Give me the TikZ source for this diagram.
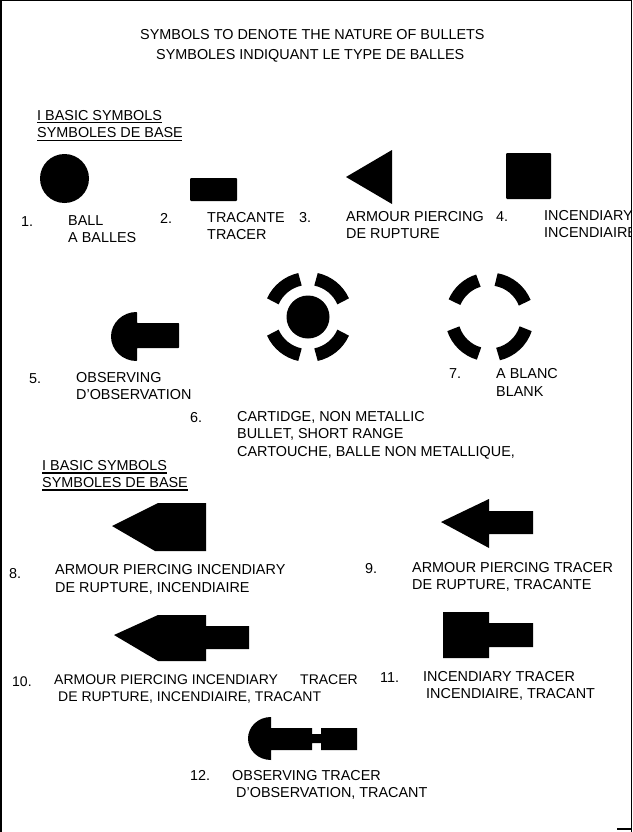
\documentclass[tikz,border=0pt]{standalone}
\usepackage{fontspec}
\setmainfont{Liberation Sans}
\tikzset{
  lbl/.style={anchor=base west,inner sep=0pt,font=\fontsize{14.4}{14.4}\selectfont,text=black},
  lblsmall/.style={lbl,font=\fontsize{14}{14}\selectfont},
  sym/.style={fill=black,draw=none},
  ringseg/.style={line width=13pt,draw=black,line cap=butt},
  rule/.style={draw=black,line width=1.2pt},
  frame/.style={draw=black,line width=1.2pt}
}
\begin{document}
\begin{tikzpicture}[x=1pt,y=-1pt]
\useasboundingbox (0,0) rectangle (632,832);
\fill[white] (0,0) rectangle (632,832);
% frame
\coordinate (fa) at (1,832);\coordinate (fb) at (1,0.5);
\coordinate (fc) at (631.3,0.5);\coordinate (fd) at (631.3,832);
\coordinate (fe) at (617,829);\coordinate (ff) at (631.3,829);
\draw[frame] (fa)--(fb)--(fc)--(fd);
\draw[frame] (fe)--(ff);
% titles
\node[lbl] (t1) at (140,40) {SYMBOLS TO DENOTE THE NATURE OF BULLETS};
\node[lbl] (t2) at (156,60) {SYMBOLES INDIQUANT LE TYPE DE BALLES};
\node[lbl] (h1) at (37,120.5) {I BASIC SYMBOLS};
\node[lbl] (h2) at (37,137.5) {SYMBOLES DE BASE};
\coordinate (r1a) at (37,122.5);\coordinate (r1b) at (162,122.5);
\coordinate (r2a) at (37,140.5);\coordinate (r2b) at (182,140.5);
\draw[rule] (r1a)--(r1b); \draw[rule] (r2a)--(r2b);
% row 1 symbols
\fill[sym] (64.5,178.5) circle (24.5);
\fill[sym,rounded corners=1pt] (190,178) rectangle (237,201);
\fill[sym] (346,177) -- (392,150) -- (392,204) -- cycle;
\fill[sym,rounded corners=1pt] (506,153) rectangle (551,199);
\node[lbl] at (21,226) {1.};
\node[lbl] at (68,225) {BALL};
\node[lbl] at (68,242) {A BALLES};
\node[lbl] at (160,223) {2.};
\node[lbl] at (207,222) {TRACANTE};
\node[lbl] at (207,239) {TRACER};
\node[lbl] at (299,222) {3.};
\node[lbl] at (346,221) {ARMOUR PIERCING};
\node[lbl] at (346,238) {DE RUPTURE};
\node[lbl] at (496,221) {4.};
\node[lbl] at (544,220) {INCENDIARY};
\begin{scope}
\clip (0,0) rectangle (631,832);
\node[lbl] at (544,237) {INCENDIAIRE};
\end{scope}
% 5
\fill[sym,rounded corners=0.6pt] (137,312) arc (-90:-270:26 and 24.5) -- (137,348) -- (179,348) -- (179,323) -- (137,323) -- cycle;
\node[lbl] at (29,383) {5.};
\node[lbl] at (76,382) {OBSERVING};
\node[lbl] at (76,399) {D'OBSERVATION};
% 6
\fill[sym] (308,317) circle (21.5);
\foreach \a/\b in {24/78,102/156,204/258,282/336}{
  \draw[ringseg] ({308+38.5*cos(\a)},{317-38.5*sin(\a)}) arc[start angle=-\a,end angle=-\b,radius=38.5];
}
\node[lbl] at (190,422) {6.};
\node[lbl] at (237,421) {CARTIDGE, NON METALLIC};
\node[lbl] at (237,438) {BULLET, SHORT RANGE};
\node[lbl] at (237,456) {CARTOUCHE, BALLE NON METALLIQUE,};
% 7
\foreach \a/\b in {22/80,107/157,198/254,283/342}{
  \draw[ringseg] ({489.5+38*cos(\a)},{317-38*sin(\a)}) arc[start angle=-\a,end angle=-\b,radius=38];
}
\node[lbl] at (449,378) {7.};
\node[lbl] at (496,378) {A BLANC};
\node[lbl] at (496,396) {BLANK};
% second header
\node[lbl] (h3) at (42,470) {I BASIC SYMBOLS};
\node[lbl] (h4) at (42,487) {SYMBOLES DE BASE};
\coordinate (r3a) at (42,473);\coordinate (r3b) at (167,473);
\coordinate (r4a) at (42,490);\coordinate (r4b) at (188,490);
\draw[rule] (r3a)--(r3b); \draw[rule] (r4a)--(r4b);
% 8
\fill[sym] (112,526) -- (158,503) -- (206,503) -- (206,551) -- (155,551) -- cycle;
\node[lbl] at (9,578) {8.};
\node[lbl] at (55,574) {ARMOUR PIERCING INCENDIARY};
\node[lbl] at (55,592) {DE RUPTURE, INCENDIAIRE};
% 9
\fill[sym] (441,522) -- (489,499) -- (489,511) -- (533,511) -- (533,534) -- (489,534) -- (489,548) -- cycle;
\node[lbl] at (365,573) {9.};
\node[lbl] at (412,572) {ARMOUR PIERCING TRACER};
\node[lbl] at (412,589) {DE RUPTURE, TRACANTE};
% 10
\fill[sym] (114,635) -- (158,615) -- (206,615) -- (206,626) -- (249,626) -- (249,649) -- (206,649) -- (206,661) -- (158,661) -- cycle;
\node[lblsmall] at (12,686) {10.};
\node[lblsmall] at (54,684.5) {ARMOUR PIERCING INCENDIARY};
\node[lblsmall] at (300,684.5) {TRACER};
\node[lblsmall] at (58,701.5) {DE RUPTURE, INCENDIAIRE, TRACANT};
% 11
\fill[sym] (443,612) -- (489,612) -- (489,623) -- (533,623) -- (533,647) -- (489,647) -- (489,658) -- (443,658) -- cycle;
\node[lbl] at (380,682) {11.};
\node[lbl] at (423,681) {INCENDIARY TRACER};
\node[lbl] at (426,698) {INCENDIAIRE, TRACANT};
% 12
\fill[sym] (271,717) arc (-90:-270:23 and 21.5) -- (271,750) -- (312,750) -- (312,743) -- (321,743) -- (321,750) -- (357,750) -- (357,728) -- (321,728) -- (321,734) -- (312,734) -- (312,728) -- (271,728) -- cycle;
\node[lbl] at (190,780) {12.};
\node[lbl] at (232,780) {OBSERVING TRACER};
\node[lbl] at (236,797) {D'OBSERVATION, TRACANT};
\end{tikzpicture}
\end{document}
